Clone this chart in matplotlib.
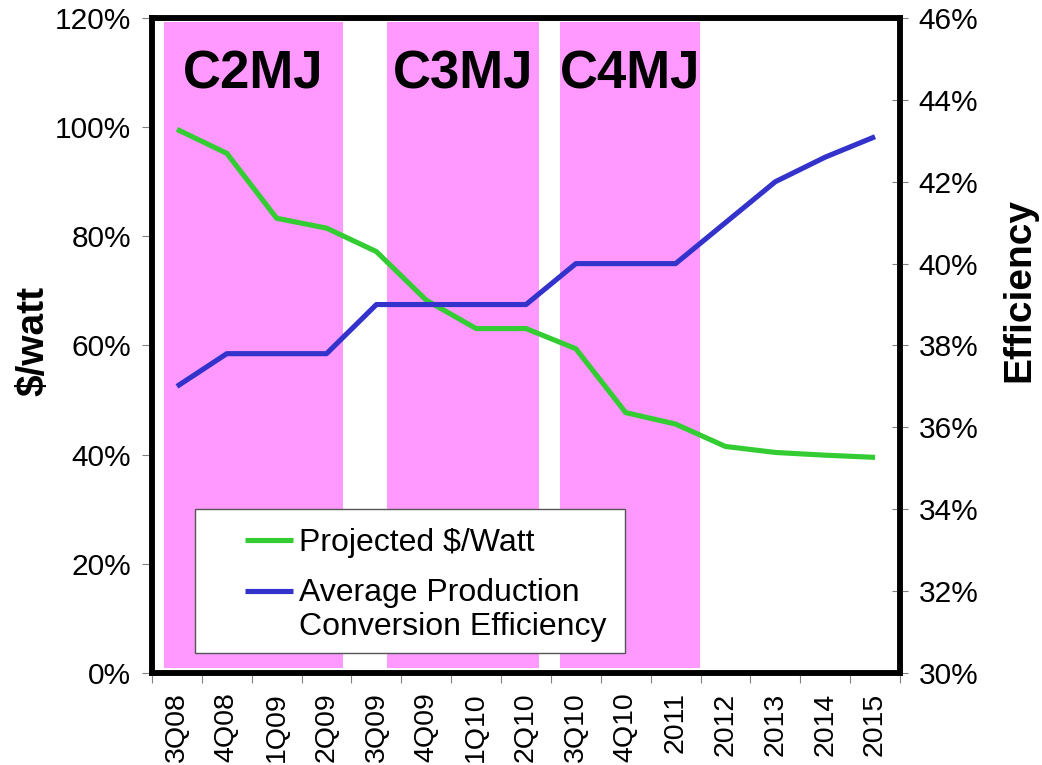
import numpy as np
import matplotlib
matplotlib.use("Agg")
import matplotlib.pyplot as plt
from matplotlib.legend_handler import HandlerLine2D
from matplotlib.patches import Rectangle

plt.rcParams['font.family'] = ['Liberation Sans', 'DejaVu Sans']

# -----------------------------
# Data
# -----------------------------

quarters = ["3Q08", "4Q08", "1Q09", "2Q09", "3Q09", "4Q09", "1Q10", "2Q10",
            "3Q10", "4Q10", "2011", "2012", "2013", "2014", "2015"]

cost_pct = [99.6, 95.2, 83.3, 81.5, 77.2, 68.3, 63.1, 63.1,
            59.4, 47.7, 45.6, 41.5, 40.4, 39.9, 39.5]

eff_pct = [37.0, 37.8, 37.8, 37.8, 39.0, 39.0, 39.0, 39.0,
           40.0, 40.0, 40.0, 41.0, 42.0, 42.6, 43.1]

cells = ["C2MJ", "C3MJ", "C4MJ"]
cell_start = [-0.26, 4.21, 7.68]
cell_end = [3.33, 7.26, 10.49]

GREEN = "#33cc33"
BLUE = "#3333cc"
PINK = "#ff99ff"


# -----------------------------
# Legend handler: handle level with first label line
# -----------------------------

class FirstLineHandler(HandlerLine2D):

    def __init__(self, shift, **kw):
        super().__init__(**kw)
        self.shift = shift

    def create_artists(self, legend, orig_handle, xdescent, ydescent,
                       width, height, fontsize, trans):
        artists = super().create_artists(legend, orig_handle, xdescent, ydescent,
                                         width, height, fontsize, trans)
        for a in artists:
            a.set_ydata(np.asarray(a.get_ydata()) + self.shift * fontsize)
        return artists


# -----------------------------
# Plot
# -----------------------------

fig = plt.figure(figsize=(10.42, 7.65), dpi=100)
ax = fig.add_axes([0.1459, 0.1203, 0.7178, 0.8562])
ax2 = ax.twinx()

x = np.arange(len(quarters))

for name, s, e in zip(cells, cell_start, cell_end):
    ax.axvspan(s, e, ymin=0.008, ymax=0.994, color=PINK, lw=0, zorder=0)
    ax.text((s + e) / 2, 107.0, name, ha='center', va='baseline',
            fontsize=38, fontweight='bold', zorder=1)

l1, = ax.plot(x, cost_pct, color=GREEN, lw=3.7, solid_capstyle='butt', zorder=3)
l2, = ax2.plot(x, eff_pct, color=BLUE, lw=3.7, solid_capstyle='butt', zorder=3)

ax.set_xlim(-0.5, len(quarters) - 0.5)
ax.set_ylim(0, 120)
ax2.set_ylim(30, 46)

# category ticks at the boundaries, labels at the centres
ax.set_xticks(np.arange(-0.5, len(quarters), 1.0))
ax.set_xticklabels([])
ax.set_xticks(x, minor=True)
ax.set_xticklabels(quarters, minor=True, rotation=90)
ax.tick_params(axis='x', which='major', direction='out', length=7, width=0.8, color='#808080')
ax.tick_params(axis='x', which='minor', length=0, labelsize=20.5, pad=14)

ax.set_yticks(np.arange(0, 121, 20))
ax.set_yticklabels([f"{v}%" for v in range(0, 121, 20)])
ax.tick_params(axis='y', direction='out', length=7, width=0.8, color='#808080',
               labelsize=21.5, pad=8)

ax2.set_yticks(np.arange(30, 47, 2))
ax2.set_yticklabels([f"{v}%" for v in range(30, 47, 2)])
ax2.tick_params(axis='y', direction='inout', length=11, width=0.8, color='#808080',
                labelsize=21.5, pad=8)

for a in (ax, ax2):
    for sp in a.spines.values():
        sp.set_linewidth(4)
        sp.set_color('black')

ax.set_ylabel("$/watt", fontsize=28, fontweight='bold', va='center')
ax.yaxis.set_label_coords(-0.159, 0.507)
ax2.set_ylabel("Efficiency", fontsize=28, fontweight='bold', rotation=90, va='center')
ax2.yaxis.set_label_coords(1.160, 0.585)

# legend box
ax2.add_patch(Rectangle((0.0575, 0.0305), 0.5749, 0.2195, transform=ax2.transAxes,
                        facecolor='white', edgecolor='#555555', lw=1, zorder=4.9))
ax2.legend([l1, l2], ["Projected $/Watt", "Average Production\nConversion Efficiency"],
           handler_map={l2: FirstLineHandler(0.6)},
           loc='upper left', bbox_to_anchor=(0.1243, 0.2214), frameon=False,
           borderpad=0, borderaxespad=0, fontsize=23, handlelength=1.5,
           handletextpad=0.2, labelspacing=0.62)

fig.savefig("out.png", dpi=100)
